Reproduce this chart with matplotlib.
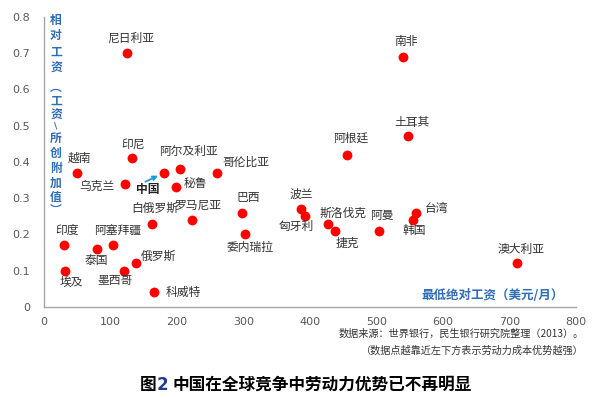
import matplotlib
matplotlib.use("Agg")
import matplotlib.pyplot as plt

plt.rcParams['font.family'] = ['Noto Sans CJK SC', 'DejaVu Sans']

# data
countries = ["尼日利亚", "南非", "土耳其", "阿根廷", "印尼", "越南", "乌克兰", "中国",
             "阿尔及利亚", "秘鲁", "哥伦比亚", "白俄罗斯", "罗马尼亚", "巴西", "委内瑞拉",
             "印度", "阿塞拜疆", "泰国", "俄罗斯", "墨西哥", "埃及", "科威特", "波兰",
             "匈牙利", "斯洛伐克", "捷克", "阿曼", "台湾", "韩国", "澳大利亚"]
wage = [125, 540, 547, 455, 132, 50, 122, 181,
        204, 199, 260, 162, 222, 298, 302,
        30, 104, 79, 138, 121, 32, 165, 386,
        392, 427, 437, 504, 559, 555, 712]
rel_wage = [0.70, 0.69, 0.47, 0.42, 0.41, 0.37, 0.34, 0.37,
            0.38, 0.33, 0.37, 0.23, 0.24, 0.26, 0.20,
            0.17, 0.17, 0.16, 0.12, 0.10, 0.10, 0.04, 0.27,
            0.25, 0.23, 0.21, 0.21, 0.26, 0.24, 0.12]

# label offsets in pixels (dx, dy)
offsets = [(4, 15), (3, 15), (4, 14), (4, 16), (1, 14), (2, 15), (-28, -3), (-17, -17),
           (9, 18), (19, 4), (29, 10), (3, 15), (6, 15), (6, 15), (5, -13),
           (3, 15), (4, 15), (0, -12), (23, 7), (-9, -10), (6, -12), (30, 0), (1, 15),
           (-8, -10), (15, 10), (13, -13), (3, 15), (21, 4), (1, -11), (4, 14)]

xticks = [0, 100, 200, 300, 400, 500, 600, 700, 800]
yticks = [0, 0.1, 0.2, 0.3, 0.4, 0.5, 0.6, 0.7, 0.8]

ylab = ["相", "对", "工", "资", "︵", "工", "资", "\\", "所", "创", "附", "加", "值", "︶"]
ylab_pix = [20, 36, 52, 68, 87, 101, 115, 126, 138, 153, 168, 183, 197, 210]

blue = "#2F6DB5"
grey = "#595959"

fig = plt.figure(figsize=(6.08, 3.98), dpi=100)
ax = fig.add_axes([44/608, 1-307/398, 532/608, 290.3/398])

ax.scatter(wage, rel_wage, s=50, color="#FF0000", zorder=3, linewidths=0)

for name, x, y, (dx, dy) in zip(countries, wage, rel_wage, offsets):
    if name == "中国":
        ax.annotate(name, (x, y), xytext=(dx, dy), textcoords="offset pixels",
                    ha="center", va="center", fontsize=8.5, fontweight="bold", color="#222222")
        ax.annotate("", (x, y), xytext=(-19, -9), textcoords="offset pixels",
                    arrowprops=dict(arrowstyle="-|>", color="#1E9BE0", lw=1.3,
                                    shrinkA=0, shrinkB=5, mutation_scale=7))
    else:
        ax.annotate(name, (x, y), xytext=(dx, dy), textcoords="offset pixels",
                    ha="center", va="center", fontsize=8.5, color="#333333")

ax.set_xlim(0, 800)
ax.set_ylim(0, 0.8)
ax.set_xticks(xticks)
ax.set_yticks(yticks)
ax.set_xticklabels([str(t) for t in xticks])
ax.set_yticklabels(["0"] + ["%.1f" % t for t in yticks[1:]])
ax.tick_params(length=0, labelsize=8, colors=grey, pad=7)
ax.tick_params(axis="y", pad=10)
for lab in ax.get_xticklabels() + ax.get_yticklabels():
    lab.set_family(["DejaVu Sans"])
for s in ("top", "right"):
    ax.spines[s].set_visible(False)
for s in ("left", "bottom"):
    ax.spines[s].set_color("#A6A6A6")
    ax.spines[s].set_linewidth(1.0)

for ch, py in zip(ylab, ylab_pix):
    if ch == "\\":
        fig.text(56/608, 1-py/398, ch, ha="center", va="center",
                 fontsize=6.5, color=blue, fontweight="bold", family=["DejaVu Sans"])
    else:
        fig.text(56/608, 1-py/398, ch, ha="center", va="center",
                 fontsize=8.5, color=blue, fontweight="bold")

ax.text(0.843, 0.04, "最低绝对工资（美元/月）", transform=ax.transAxes, ha="center",
        va="center", fontsize=9, color=blue, fontweight="bold")

fig.text(584/608, 1-334/398, "数据来源：世界银行，民生银行研究院整理（2013）。",
         ha="right", va="center", fontsize=7.3, color="#333333")
fig.text(584/608, 1-351/398, "（数据点越靠近左下方表示劳动力成本优势越强）",
         ha="right", va="center", fontsize=7.3, color="#333333")

t1 = fig.text(140/608, 1-385/398, "图", ha="left", va="center", fontsize=12,
              fontweight="bold", color="black")
fig.canvas.draw()
bb = t1.get_window_extent()
t2 = fig.text(bb.x1/608, 1-385/398, "2", ha="left", va="center", fontsize=12,
              fontweight="bold", color="#1F3D8F", family=["DejaVu Sans"])
bb2 = t2.get_window_extent()
fig.text(bb2.x1/608 + 4/608, 1-385/398, "中国在全球竞争中劳动力优势已不再明显",
         ha="left", va="center", fontsize=12, fontweight="bold", color="black")

fig.savefig("out.png", dpi=100)
